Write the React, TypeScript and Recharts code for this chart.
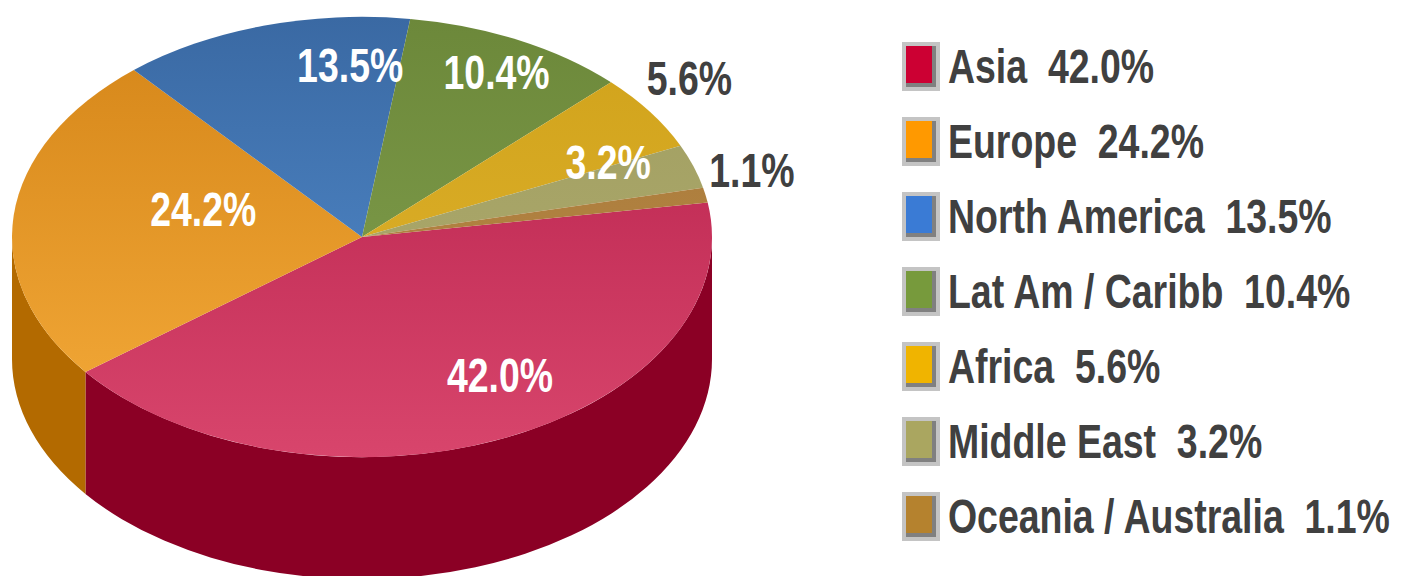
import React from "react";
import { PieChart, Pie, Cell, Legend } from "recharts";

const regions = [
  "Asia",
  "Europe",
  "North America",
  "Lat Am / Caribb",
  "Africa",
  "Middle East",
  "Oceania / Australia",
];
const shares = [42.0, 24.2, 13.5, 10.4, 5.6, 3.2, 1.1];

const legendColors = ["#cc0033", "#ff9900", "#3a7bd5", "#779a3c", "#f0b400", "#aaa660", "#b5822e"];
const topDark = ["#b5204a", "#d48518", "#3a69a3", "#6c883a", "#d0a21a", "#a09e60", "#a87838"];
const topLight = ["#d8456c", "#f5ab3a", "#5590d2", "#84a250", "#e0b430", "#b0ac70", "#b88a48"];
const sideColors = ["#8b0025", "#b36a00", "#2c5080", "#506828", "#a07c08", "#807c40", "#805820"];

// label placement tweaks (radius as fraction of radius, angle shift in degrees)
const labelRadius = [0.74, 0.47, 0.78, 0.84, 1.18, 0.78, 1.155];
const labelShift = [8.8, -9.5, -13.9, -0.6, 3, 6.9, 4.3];
const outsideLabel = [false, false, false, false, true, false, true];

const data = regions.map((name, i) => ({ name, value: shares[i] }));

const SQUASH = 0.629;
const DEPTH = 122;
const RAD = Math.PI / 180;
const FONT = "'Liberation Sans', Arial, sans-serif";
const NARROW = 0.78;

const pt = (cx: number, cy: number, r: number, a: number) => [
  cx + r * Math.cos(a * RAD),
  cy - r * SQUASH * Math.sin(a * RAD),
];

const Slice3D = (props: any) => {
  const { cx, cy, outerRadius: r, startAngle: s, endAngle: e, index } = props;
  const ry = r * SQUASH;
  const [x1, y1] = pt(cx, cy, r, s);
  const [x2, y2] = pt(cx, cy, r, e);
  const large = Math.abs(s - e) > 180 ? 1 : 0;
  const sweep = s > e ? 1 : 0;
  const top = `M${cx},${cy} L${x1},${y1} A${r},${ry} 0 ${large} ${sweep} ${x2},${y2} Z`;

  const lo = Math.min(s, e);
  const hi = Math.max(s, e);
  const sides: string[] = [];
  for (const k of [-1, 0, 1]) {
    const a = Math.max(lo, -180 + 360 * k);
    const b = Math.min(hi, 360 * k);
    if (b - a > 0.01) {
      const [bx, by] = pt(cx, cy, r, b);
      const [ax, ay] = pt(cx, cy, r, a);
      sides.push(
        `M${bx},${by} A${r},${ry} 0 0 1 ${ax},${ay} L${ax},${ay + DEPTH} A${r},${ry} 0 0 0 ${bx},${by + DEPTH} Z`
      );
    }
  }
  return (
    <g>
      {sides.map((d, j) => (
        <path key={j} d={d} fill={sideColors[index]} />
      ))}
      <path d={top} fill={`url(#top${index})`} />
    </g>
  );
};

const renderLabel = (props: any) => {
  const { cx, cy, midAngle, outerRadius, index } = props;
  const a = midAngle + labelShift[index];
  const [x, y] = pt(cx, cy, outerRadius * labelRadius[index], a);
  return (
    <text
      x={0}
      y={0}
      transform={`translate(${x},${y}) scale(${NARROW},1)`}
      textAnchor="middle"
      dominantBaseline="central"
      fill={outsideLabel[index] ? "#404040" : "#ffffff"}
      fontFamily={FONT}
      fontWeight="bold"
      fontSize={48}
    >
      {shares[index].toFixed(1)}%
    </text>
  );
};

const renderLegend = () => (
  <div>
    {regions.map((name, i) => (
      <div key={name} style={{ display: "flex", alignItems: "center", height: 75 }}>
        <div
          style={{
            width: 30,
            height: 41,
            padding: 4,
            background: "#c4c4c4",
            boxSizing: "content-box",
            flex: "none",
          }}
        >
          <div
            style={{
              width: 26,
              height: 37,
              background: legendColors[i],
              borderRight: "4px solid #808080",
              borderBottom: "4px solid #808080",
            }}
          />
        </div>
        <span
          style={{
            display: "inline-block",
            marginLeft: 8,
            fontFamily: FONT,
            fontWeight: "bold",
            fontSize: 48,
            color: "#404040",
            whiteSpace: "pre",
            lineHeight: "75px",
            transform: `scaleX(${NARROW})`,
            transformOrigin: "left center",
          }}
        >
          {`${name}  ${shares[i].toFixed(1)}%`}
        </span>
      </div>
    ))}
  </div>
);

export default function App() {
  return (
    <PieChart width={1413} height={568} margin={{ top: 0, right: 0, bottom: 0, left: 0 }}>
      <defs>
        {regions.map((_, i) => (
          <linearGradient key={i} id={`top${i}`} x1="0" y1="9" x2="0" y2="449" gradientUnits="userSpaceOnUse">
            <stop offset="0%" stopColor={topDark[i]} />
            <stop offset="100%" stopColor={topLight[i]} />
          </linearGradient>
        ))}
      </defs>
      <Pie
        data={data}
        dataKey="value"
        nameKey="name"
        cx={354}
        cy={229}
        outerRadius={350}
        startAngle={9}
        endAngle={-351}
        stroke="none"
        shape={Slice3D}
        inactiveShape={Slice3D}
        activeShape={Slice3D}
        label={renderLabel}
        labelLine={false}
        isAnimationActive={false}
      >
        {data.map((d, i) => (
          <Cell key={d.name} fill={legendColors[i]} />
        ))}
      </Pie>
      <Legend
        content={renderLegend}
        wrapperStyle={{ position: "absolute", left: 894, top: 21, width: 519 }}
      />
    </PieChart>
  );
}
